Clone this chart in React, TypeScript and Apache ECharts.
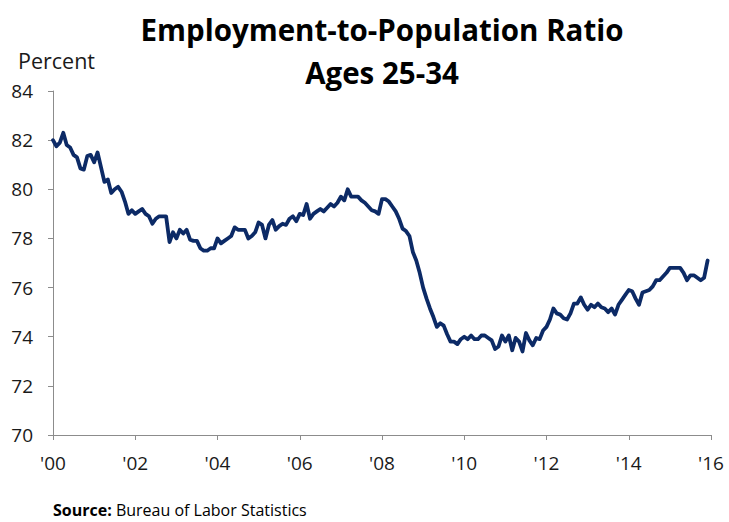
import React, { useEffect, useRef } from "react";
import * as echarts from "echarts";

// Monthly employment-to-population ratio, ages 25-34, Jan 2000 onward
const startYear = 2000;
const ratio: number[] = [
  // 2000
  82.0, 81.75, 81.9, 82.3, 81.8, 81.7, 81.4, 81.3, 80.85, 80.8, 81.35, 81.4,
  // 2001
  81.1, 81.5, 80.9, 80.3, 80.4, 79.85, 80.0, 80.1, 79.9, 79.5, 79.0, 79.15,
  // 2002
  79.0, 79.1, 79.2, 79.0, 78.9, 78.6, 78.8, 78.9, 78.9, 78.9, 77.85, 78.25,
  // 2003
  78.0, 78.35, 78.2, 78.35, 77.95, 77.9, 77.9, 77.6, 77.5, 77.5, 77.6, 77.6,
  // 2004
  78.0, 77.8, 77.9, 78.0, 78.1, 78.45, 78.35, 78.35, 78.35, 78.0, 78.1, 78.25,
  // 2005
  78.65, 78.55, 78.0, 78.55, 78.75, 78.35, 78.5, 78.6, 78.55, 78.8, 78.9, 78.7,
  // 2006
  79.0, 78.95, 79.4, 78.8, 79.0, 79.1, 79.2, 79.1, 79.25, 79.4, 79.3, 79.45,
  // 2007
  79.7, 79.55, 80.0, 79.7, 79.7, 79.7, 79.55, 79.45, 79.3, 79.15, 79.1, 79.0,
  // 2008
  79.6, 79.6, 79.5, 79.3, 79.1, 78.8, 78.4, 78.3, 78.1, 77.45, 77.1, 76.6,
  // 2009
  76.0, 75.55, 75.15, 74.8, 74.4, 74.55, 74.45, 74.1, 73.8, 73.8, 73.7, 73.9,
  // 2010
  74.0, 73.9, 74.05, 73.9, 73.9, 74.05, 74.05, 73.95, 73.85, 73.5, 73.6, 74.05,
  // 2011
  73.8, 74.05, 73.45, 73.95, 73.8, 73.4, 74.15, 73.85, 73.65, 73.95, 73.9, 74.25,
  // 2012
  74.4, 74.7, 75.15, 74.95, 74.9, 74.75, 74.7, 74.95, 75.35, 75.35, 75.6, 75.3,
  // 2013
  75.1, 75.3, 75.2, 75.35, 75.2, 75.15, 75.0, 75.15, 74.9, 75.3, 75.5, 75.7,
  // 2014
  75.9, 75.85, 75.55, 75.3, 75.8, 75.85, 75.9, 76.05, 76.3, 76.3, 76.45, 76.6,
  // 2015
  76.8, 76.8, 76.8, 76.8, 76.6, 76.3, 76.5, 76.5, 76.4, 76.3, 76.4, 77.1,
];

const titleLines = ["Employment-to-Population Ratio", "Ages 25-34"];
const yAxisName = "Percent";
const sourceLabel = "Source:";
const sourceText = " Bureau of Labor Statistics";

const FONT = "'Open Sans', 'Noto Sans', sans-serif";

export default function App() {
  const ref = useRef<HTMLDivElement>(null);

  useEffect(() => {
    document.body.style.margin = "0";
    if (!ref.current) return;
    const chart = echarts.init(ref.current, undefined, { renderer: "svg" });
    const data = ratio.map((v, i) => [i, v]);
    chart.setOption({
      animation: false,
      backgroundColor: "#ffffff",
      textStyle: { fontFamily: FONT },
      title: {
        text: titleLines.join("\n"),
        left: 377,
        top: 3,
        textAlign: "center",
        textStyle: {
          fontFamily: FONT,
          fontSize: 29.5,
          fontWeight: "bold",
          color: "#000000",
          lineHeight: 43,
        },
      },
      graphic: [
        {
          type: "text",
          left: 18,
          top: 49,
          style: { text: yAxisName, fontFamily: FONT, fontSize: 21.5, fill: "#1a1a1a" },
        },
        {
          type: "text",
          left: 53,
          top: 502,
          style: {
            text: `{b|${sourceLabel}}{n|${sourceText}}`,
            rich: {
              b: { fontFamily: FONT, fontSize: 16, fontWeight: "bold", fill: "#000" },
              n: { fontFamily: FONT, fontSize: 16, fill: "#000" },
            },
          },
        },
      ],
      grid: { left: 53, right: 18, top: 91, bottom: 87, containLabel: false },
      xAxis: {
        type: "value",
        min: 0,
        max: 192,
        interval: 24,
        axisLine: { show: true, lineStyle: { color: "#8c8c8c", width: 1 } },
        axisTick: { show: true, inside: false, length: 5, lineStyle: { color: "#8c8c8c" } },
        splitLine: { show: false },
        axisLabel: {
          fontFamily: FONT,
          fontSize: 19,
          color: "#1a1a1a",
          margin: 18,
          formatter: (v: number) => "'" + String((startYear + v / 12) % 100).padStart(2, "0"),
        },
      },
      yAxis: {
        type: "value",
        min: 70,
        max: 84,
        interval: 2,
        axisLine: { show: true, lineStyle: { color: "#8c8c8c", width: 1 } },
        axisTick: { show: true, inside: false, length: 5, lineStyle: { color: "#8c8c8c" } },
        splitLine: { show: false },
        axisLabel: { fontFamily: FONT, fontSize: 19, color: "#1a1a1a", margin: 20 },
      },
      series: [
        {
          type: "line",
          data,
          showSymbol: false,
          symbol: "none",
          lineStyle: { color: "#0c2a66", width: 3.8, join: "round", cap: "round" },
        },
      ],
    });
    return () => chart.dispose();
  }, []);

  return <div ref={ref} style={{ width: 729, height: 522 }} />;
}
